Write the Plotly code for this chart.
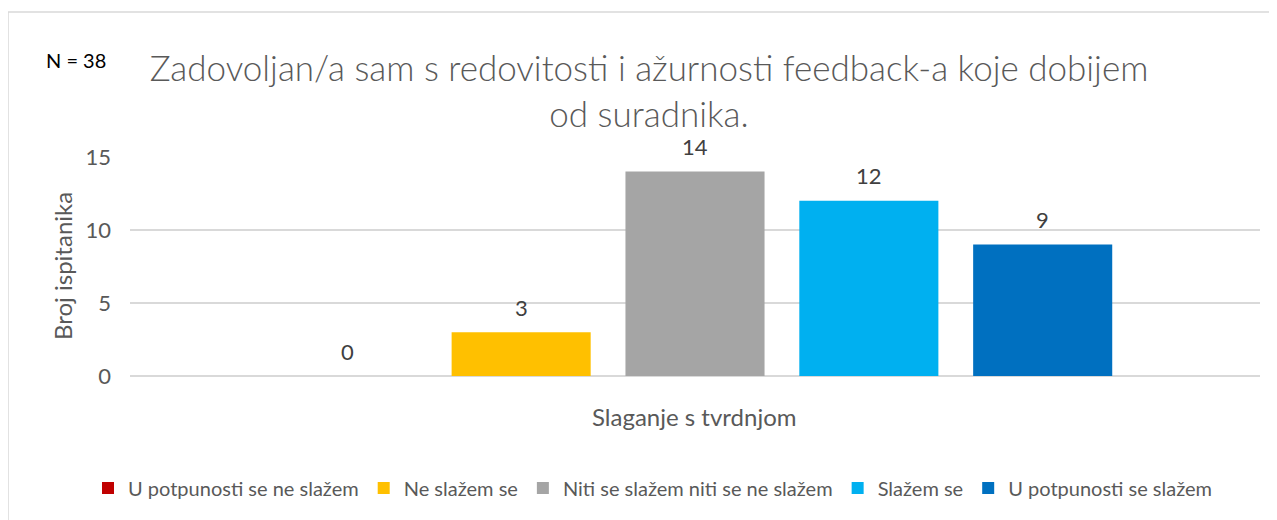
import plotly.graph_objects as go

# answer categories (legend order) and number of respondents
categories = ["U potpunosti se ne slažem", "Ne slažem se",
              "Niti se slažem niti se ne slažem", "Slažem se",
              "U potpunosti se slažem"]
counts = [0, 3, 14, 12, 9]
colors = ["#C00000", "#FFC000", "#A5A5A5", "#00B0F0", "#0070C0"]
y_ticks = [0, 5, 10, 15]

title = "Zadovoljan/a sam s redovitosti i ažurnosti feedback-a koje dobijem<br>od suradnika."
n_label = "N = 38"
x_title = "Slaganje s tvrdnjom"
y_title = "Broj ispitanika"

FONT = "Lato"
GRAY = "#595959"

# the page body adds an 8px margin, so layout targets are shifted by it
OFF = 8
W, H = 1277, 520
L, T = 130 - OFF, 157 - OFF
pw, ph = 1130, 219
R, B = W - L - pw, H - T - ph


def px_x(px):
    return (px - OFF - L) / pw


def px_y(py):
    return (T + ph - (py - OFF)) / ph


fig = go.Figure()
for i, (name, v, c) in enumerate(zip(categories, counts, colors)):
    fig.add_trace(go.Bar(x=[i], y=[v], name=name, width=0.8,
                         marker=dict(color=c, line=dict(width=0))))
    fig.add_annotation(x=i, y=v, text=str(v), showarrow=False, yshift=25,
                       xanchor="center", yanchor="middle",
                       font=dict(family=FONT, size=22, color="#404040"))

fig.update_layout(
    width=W, height=H,
    margin=dict(l=L, r=R, t=T, b=B, autoexpand=False),
    paper_bgcolor="white", plot_bgcolor="white",
    barmode="overlay",
    font=dict(family=FONT, color=GRAY),
    title=dict(text=title, x=px_x(649), xanchor="center", xref="paper",
               y=(H - (81 - OFF)) / H, yanchor="middle",
               font=dict(family=FONT, size=35, color=GRAY, weight=300)),
    showlegend=True,
    legend=dict(orientation="h", x=px_x(653), xanchor="center",
                y=px_y(488), yanchor="middle",
                font=dict(family=FONT, size=20, color=GRAY),
                itemwidth=30, traceorder="normal"),
    xaxis=dict(range=[-1.25, 5.25], showticklabels=False, showgrid=False,
               zeroline=False, showline=False, fixedrange=True),
    yaxis=dict(range=[0, 15], tickvals=y_ticks, showgrid=True,
               gridcolor="#D9D9D9", gridwidth=1.5, zeroline=True,
               zerolinecolor="#D9D9D9", zerolinewidth=1.5,
               tickfont=dict(family=FONT, size=22, color=GRAY),
               ticklabelstandoff=18, showline=False),
)

fig.add_annotation(xref="paper", yref="paper", x=px_x(694), y=px_y(416),
                   text=x_title, showarrow=False,
                   xanchor="center", yanchor="middle",
                   font=dict(family=FONT, size=24, color=GRAY))
fig.add_annotation(xref="paper", yref="paper", x=px_x(62), y=px_y(266),
                   text=y_title, showarrow=False, textangle=-90,
                   xanchor="center", yanchor="middle",
                   font=dict(family=FONT, size=24, color=GRAY))
fig.add_annotation(xref="paper", yref="paper", x=px_x(76), y=px_y(60),
                   text=n_label, showarrow=False,
                   xanchor="center", yanchor="middle",
                   font=dict(family=FONT, size=20, color="black"))

# chart area border (only top and left edges are visible in the crop)
fig.add_shape(type="rect", xref="paper", yref="paper",
              x0=px_x(8), x1=px_x(1300), y0=px_y(560), y1=px_y(12),
              line=dict(color="#D9D9D9", width=1.5), layer="below")

fig.write_html("out.html")
